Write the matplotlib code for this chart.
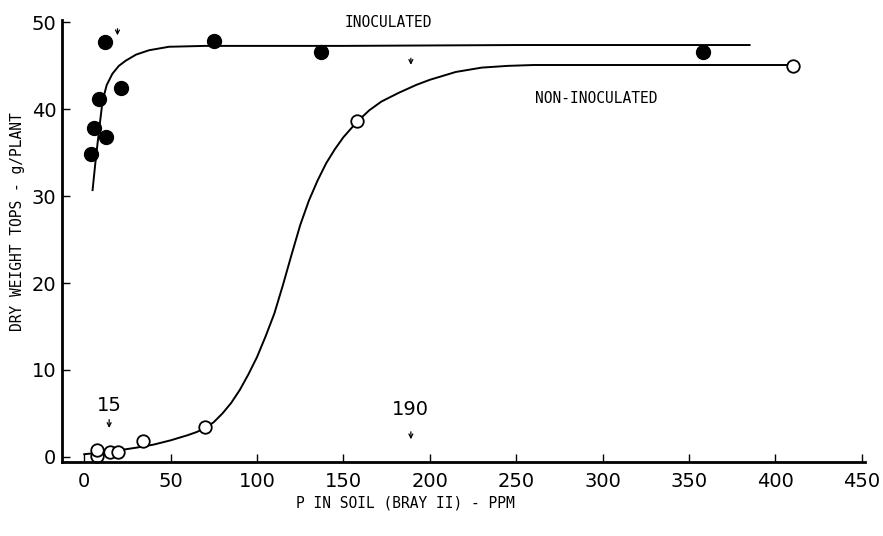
import matplotlib.pyplot as plt

plt.rcParams['font.family'] = ['DejaVu Sans']

# inoculated (filled circles)
inoc_p = [3.9, 5.4, 8.7, 12.0, 12.5, 21.2, 75, 137, 358]
inoc_w = [34.9, 37.8, 41.2, 47.7, 36.8, 42.5, 47.9, 46.6, 46.6]

# non-inoculated (open circles)
non_p = [7.1, 7.1, 14.8, 19.6, 34.2, 69.7, 157.8, 410]
non_w = [0.1, 0.84, 0.5, 0.5, 1.8, 3.4, 38.7, 45.0]

# hand-drawn fitted curves
inoc_curve_p = [4.8, 6.5, 8.5, 10.6, 13.0, 16.3, 20.0, 24.0, 30.0, 37.5, 49.0, 70, 150, 250, 385]
inoc_curve_w = [30.7, 34.0, 37.5, 41.0, 42.8, 44.1, 45.0, 45.6, 46.3, 46.8, 47.2, 47.3, 47.3, 47.4, 47.4]

non_curve_p = [0, 10, 20, 30, 40, 50, 60, 65, 70, 75, 80, 85, 90, 95, 100, 105, 110, 115,
               120, 125, 130, 135, 140, 145, 150, 158, 165, 172, 182, 192, 200, 215, 230,
               245, 260, 410]
non_curve_w = [0.3, 0.5, 0.75, 1.05, 1.4, 1.9, 2.5, 2.85, 3.3, 4.0, 5.0, 6.2, 7.7, 9.5,
               11.5, 13.9, 16.5, 19.8, 23.3, 26.7, 29.5, 31.8, 33.8, 35.4, 36.8, 38.6,
               39.9, 40.9, 41.9, 42.8, 43.4, 44.3, 44.8, 45.0, 45.1, 45.1]

x_ticks = [0, 50, 100, 150, 200, 250, 300, 350, 400, 450]
y_ticks = [0, 10, 20, 30, 40, 50]

fig = plt.figure(figsize=(8.83, 5.36), dpi=100)
ax = fig.add_axes([0.070, 0.138, 0.910, 0.825])

ax.plot(inoc_curve_p, inoc_curve_w, color='black', lw=1.4)
ax.plot(non_curve_p, non_curve_w, color='black', lw=1.4)
ax.plot(inoc_p, inoc_w, 'o', color='black', ms=10, clip_on=False)
ax.plot(non_p, non_w, 'o', mfc='white', mec='black', mew=1.3, ms=9, clip_on=False)

mono = 'DejaVu Sans Mono'
# labels and arrows
ax.text(176, 50, 'INOCULATED', ha='center', va='center', fontsize=10.5, family=mono)
ax.text(296, 41.3, 'NON-INOCULATED', ha='center', va='center', fontsize=10.5, family=mono)
ax.text(14.4, 5.9, '15', ha='center', va='center', fontsize=14)
ax.text(189, 5.4, '190', ha='center', va='center', fontsize=14)
arrow = dict(arrowstyle='->', lw=0.9, color='black', mutation_scale=7)
ax.annotate('', xy=(14.4, 3.0), xytext=(14.4, 4.6), arrowprops=arrow)
ax.annotate('', xy=(189, 1.7), xytext=(189, 3.2), arrowprops=arrow)
ax.annotate('', xy=(189, 44.8), xytext=(189, 46.2), arrowprops=arrow)
ax.annotate('', xy=(19.2, 48.2), xytext=(19.2, 49.6), arrowprops=arrow)

ax.set_xlim(-13, 452)
ax.set_ylim(-0.6, 50.3)
ax.set_xticks(x_ticks)
ax.set_yticks(y_ticks)
ax.tick_params(direction='in', length=6, width=1, labelsize=14)
ax.tick_params(axis='x', pad=7)
ax.tick_params(axis='y', pad=4)
for s in ['top', 'right']:
    ax.spines[s].set_visible(False)
for s in ['left', 'bottom']:
    ax.spines[s].set_linewidth(2)

ax.set_xlabel('P IN SOIL (BRAY II) - PPM', fontsize=10.5, family=mono)
ax.xaxis.set_label_coords(0.428, -0.075)
ax.set_ylabel('DRY WEIGHT TOPS - g/PLANT', fontsize=10.5, family=mono)
ax.yaxis.set_label_coords(-0.046, 0.543)

fig.savefig('out.png', dpi=100)
